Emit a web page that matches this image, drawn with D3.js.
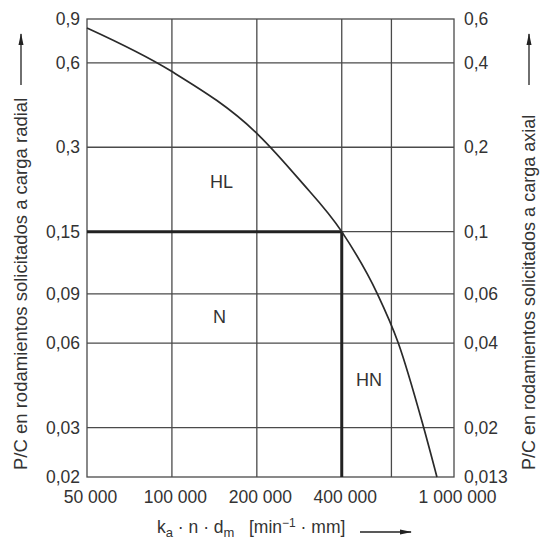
<!DOCTYPE html>
<html>
<head>
<meta charset="utf-8">
<script src="https://cdn.jsdelivr.net/npm/d3@7"></script>
<style>
  body { margin: 0; background: #fff; }
  text { font-family: "Liberation Sans", Arial, sans-serif; fill: #333; }
</style>
</head>
<body>
<script>
// speed factor on the x axis, P/C on the y axes
var xTicks = [50000, 100000, 200000, 400000, 600000, 1000000];
var xLabels = ["50 000", "100 000", "200 000", "400 000", "", "1 000 000"];
var yTicks = [0.86, 0.6, 0.3, 0.15, 0.09, 0.06, 0.03, 0.02];
var yLabelsLeft = ["0,9", "0,6", "0,3", "0,15", "0,09", "0,06", "0,03", "0,02"];
var yLabelsRight = ["0,6", "0,4", "0,2", "0,1", "0,06", "0,04", "0,02", "0,013"];

// limit curve
var curveX = [50000, 99000, 202000, 284000, 400000, 535000, 635000, 778000, 870000];
var curveY = [0.799, 0.562, 0.333, 0.229, 0.15, 0.09, 0.06, 0.0304, 0.02];

// the bold limit lines
var limitX = 400000;
var limitY = 0.15;

var regionNames = ["HL", "N", "HN"];
var regionX = [150000, 147500, 500000];
var regionY = [0.226, 0.0745, 0.0444];

function main(){
  var width = 540, height = 542;
  var left = 87, right = 454, top = 19, bottom = 477;

  var svg = d3.select("body").append("svg")
    .attr("width", width)
    .attr("height", height);

  var x = d3.scaleLog().domain([50000, 1000000]).range([left, right]);
  var y = d3.scaleLog().domain([0.02, 0.86]).range([bottom, top]);

  // grid
  svg.append("g").selectAll("line")
    .data(xTicks.slice(1, -1))
    .enter().append("line")
    .attr("x1", d => x(d)).attr("x2", d => x(d))
    .attr("y1", top).attr("y2", bottom)
    .attr("stroke", "#4a4a4a").attr("stroke-width", 1.3);

  svg.append("g").selectAll("line")
    .data(yTicks.slice(1, -1))
    .enter().append("line")
    .attr("y1", d => y(d)).attr("y2", d => y(d))
    .attr("x1", left).attr("x2", right)
    .attr("stroke", "#4a4a4a").attr("stroke-width", 1.3);

  svg.append("rect")
    .attr("x", left).attr("y", top)
    .attr("width", right - left).attr("height", bottom - top)
    .attr("fill", "none").attr("stroke", "#4a4a4a").attr("stroke-width", 1.3);

  // bold limits
  svg.append("line")
    .attr("x1", x(50000)).attr("x2", x(limitX))
    .attr("y1", y(limitY)).attr("y2", y(limitY))
    .attr("stroke", "#222").attr("stroke-width", 3);
  svg.append("line")
    .attr("x1", x(limitX)).attr("x2", x(limitX))
    .attr("y1", y(limitY)).attr("y2", y(0.02))
    .attr("stroke", "#222").attr("stroke-width", 3);

  // curve
  var pts = curveX.map((d, i) => [d, curveY[i]]);
  var line = d3.line()
    .x(d => x(d[0]))
    .y(d => y(d[1]))
    .curve(d3.curveMonotoneX);
  svg.append("path")
    .attr("d", line(pts))
    .attr("fill", "none").attr("stroke", "#2a2a2a").attr("stroke-width", 1.7);

  // region labels
  svg.append("g").selectAll("text")
    .data(regionNames)
    .enter().append("text")
    .attr("x", (d, i) => x(regionX[i]))
    .attr("y", (d, i) => y(regionY[i]))
    .attr("text-anchor", "middle")
    .attr("dominant-baseline", "central")
    .style("font-size", "18px")
    .text(d => d);

  // axes
  var axL = svg.append("g")
    .attr("transform", "translate(" + left + ",0)")
    .call(d3.axisLeft(y).tickValues(yTicks).tickFormat((d, i) => yLabelsLeft[i]).tickSize(0).tickPadding(7));
  var axR = svg.append("g")
    .attr("transform", "translate(" + right + ",0)")
    .call(d3.axisRight(y).tickValues(yTicks).tickFormat((d, i) => yLabelsRight[i]).tickSize(0).tickPadding(10));
  var axB = svg.append("g")
    .attr("transform", "translate(0," + bottom + ")")
    .call(d3.axisBottom(x).tickValues(xTicks).tickFormat((d, i) => xLabels[i]).tickSize(0).tickPadding(14));
  [axL, axR, axB].forEach(function(a){
    a.select(".domain").remove();
    a.selectAll("text").style("font-size", "17.5px").attr("fill", "#333")
      .style("font-family", '"Liberation Sans", Arial, sans-serif');
  });
  axB.selectAll("text").attr("dx", 3);

  // arrow marker
  svg.append("defs").append("marker")
    .attr("id", "arr")
    .attr("viewBox", "0 0 12 6")
    .attr("refX", 11).attr("refY", 3)
    .attr("markerWidth", 12).attr("markerHeight", 6)
    .attr("markerUnits", "userSpaceOnUse")
    .attr("orient", "auto")
    .append("path").attr("d", "M0,0.5 L12,3 L0,5.5 Z").attr("fill", "#222");

  // y titles
  svg.append("text")
    .attr("transform", "translate(27,470) rotate(-90)")
    .style("font-size", "18.5px")
    .text("P/C en rodamientos solicitados a carga radial");
  svg.append("line")
    .attr("x1", 21).attr("x2", 21).attr("y1", 85).attr("y2", 34)
    .attr("stroke", "#222").attr("stroke-width", 1.3).attr("marker-end", "url(#arr)");

  svg.append("text")
    .attr("transform", "translate(535,470) rotate(-90)")
    .style("font-size", "18px")
    .text("P/C en rodamientos solicitados a carga axial");
  svg.append("line")
    .attr("x1", 529).attr("x2", 529).attr("y1", 85).attr("y2", 34)
    .attr("stroke", "#222").attr("stroke-width", 1.3).attr("marker-end", "url(#arr)");

  // x title
  var xt = svg.append("text")
    .attr("x", 157).attr("y", 533)
    .style("font-size", "17.5px");
  xt.append("tspan").text("k");
  xt.append("tspan").attr("dy", 4).style("font-size", "13px").text("a");
  xt.append("tspan").attr("dy", -4).text(" \u00b7 n \u00b7 d");
  xt.append("tspan").attr("dy", 4).style("font-size", "13px").text("m");
  xt.append("tspan").attr("dy", -4).text("\u00a0\u00a0\u00a0[min");
  xt.append("tspan").attr("dy", -6).style("font-size", "12px").text("\u22121");
  xt.append("tspan").attr("dy", 6).text(" \u00b7 mm]");
  svg.append("line")
    .attr("x1", 360).attr("x2", 411).attr("y1", 532).attr("y2", 532)
    .attr("stroke", "#222").attr("stroke-width", 1.3).attr("marker-end", "url(#arr)");
}

main();
</script>
</body>
</html>
